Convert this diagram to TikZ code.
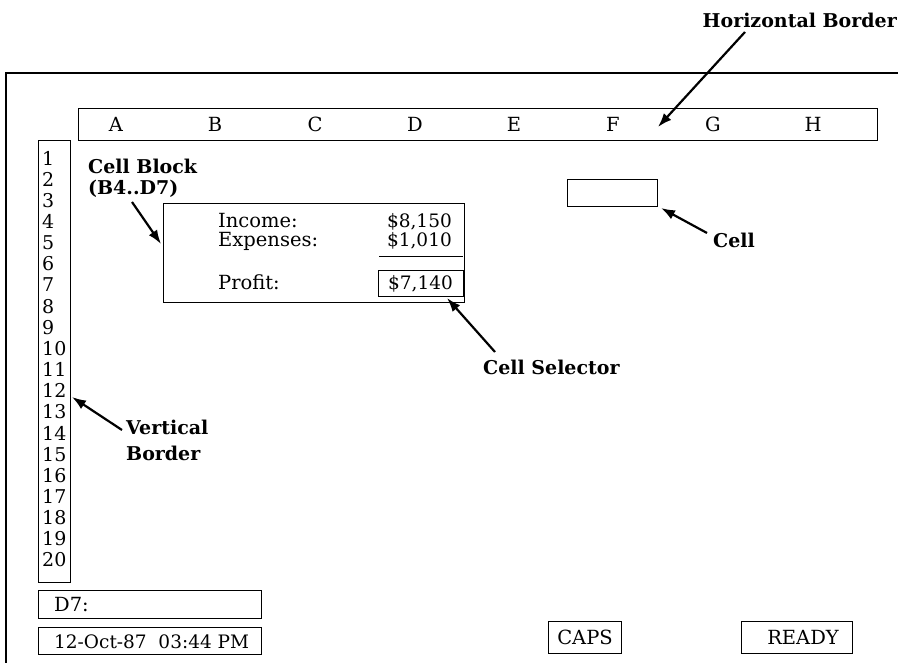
\documentclass[tikz,border=0pt]{standalone}
\usepackage{fontspec}
\setmainfont{DejaVu Serif}
\usetikzlibrary{arrows.meta}
\begin{document}
\begin{tikzpicture}[x=1pt,y=-1pt,
  box/.style={draw, line width=1pt, inner sep=0pt, anchor=north west},
  sheet/.style={font=\fontsize{18.5}{20}\selectfont, inner sep=0pt},
  word/.style={font=\fontsize{19.5}{21}\selectfont, inner sep=0pt},
  lbl/.style={font=\fontsize{19}{21}\selectfont\bfseries, inner sep=0pt},
  pointer/.style={line width=2.2pt, -{Latex[length=14pt,width=10pt]}}]
\useasboundingbox (0,0) rectangle (898,663);
% outer screen frame (top and left edges)
\draw[line width=1.3pt] (6,663) -- (6,73) -- (898,73);
% horizontal border
\node[box, minimum width=799pt, minimum height=32pt] (hborder) at (78,108) {};
\foreach \c/\xx in {A/116,B/215,C/315,D/415,E/514,F/613,G/713,H/813}
  \node[word] (col\c) at (\xx,124) {\c};
% vertical border
\node[box, minimum width=32pt, minimum height=442pt] (vborder) at (38,140) {};
\foreach \i in {1,...,20}
  \node[sheet, font=\fontsize{19}{20}\selectfont, anchor=west] (row\i) at (42,{158+21.16*(\i-1)}) {\i};
% cell block
\node[box, minimum width=301pt, minimum height=99pt] (block) at (163,203) {};
\node[word, anchor=base west] (inc) at (218,228) {Income:};
\node[word, anchor=base west] (exp) at (218,247) {Expenses:};
\node[word, anchor=base west] (prof) at (218,290) {Profit:};
\node[sheet, anchor=base east] (incv) at (452,228) {\$8,150};
\node[sheet, anchor=base east] (expv) at (452,247) {\$1,010};
\coordinate (ulA) at (379,257);
\coordinate (ulB) at (463,257);
\draw[line width=1pt] (ulA) -- (ulB);
\node[box, minimum width=85pt, minimum height=26pt] (sel) at (378,270) {};
\node[sheet, anchor=base] (selv) at (420.5,290) {\$7,140};
% single cell
\node[box, minimum width=90pt, minimum height=27pt] (cell) at (567,179) {};
% status lines
\node[box, minimum width=223pt, minimum height=28pt] (d7box) at (38,590) {};
\node[word, anchor=base west] (d7) at (54,611) {D7:};
\node[box, minimum width=223pt, minimum height=27pt] (datebox) at (38,627) {};
\node[sheet, anchor=base west] (date) at (54,648) {12-Oct-87\ \ 03:44 PM};
\node[box, minimum width=73pt, minimum height=32pt] (capsbox) at (548,621) {};
\node[word] (caps) at (capsbox.center) {CAPS};
\node[box, minimum width=111pt, minimum height=32pt] (readybox) at (741,621) {};
\node[word, anchor=east] (ready) at (839,637) {READY};
% labels
\node[lbl, anchor=base east] (lhb) at (897,28) {Horizontal Border};
\node[lbl, anchor=base west] (lcb1) at (88,174) {Cell Block};
\node[lbl, anchor=base west] (lcb2) at (88,195) {(B4..D7)};
\node[lbl, anchor=base west] (lcell) at (713,248) {Cell};
\node[lbl, anchor=base west] (lsel) at (483,375) {Cell Selector};
\node[lbl, anchor=base west] (lvb1) at (126,435) {Vertical};
\node[lbl, anchor=base west] (lvb2) at (126,460) {Border};
% arrows
\coordinate (t1) at (745,32);   \coordinate (h1) at (658,127);
\coordinate (t2) at (132,202);  \coordinate (h2) at (161,244);
\coordinate (t3) at (707,233);  \coordinate (h3) at (661,208);
\coordinate (t4) at (495,352);  \coordinate (h4) at (447,298);
\coordinate (t5) at (122,430);  \coordinate (h5) at (72,397);
\draw[pointer] (t1) -- (h1);
\draw[pointer] (t2) -- (h2);
\draw[pointer] (t3) -- (h3);
\draw[pointer] (t4) -- (h4);
\draw[pointer] (t5) -- (h5);
\end{tikzpicture}
\end{document}
